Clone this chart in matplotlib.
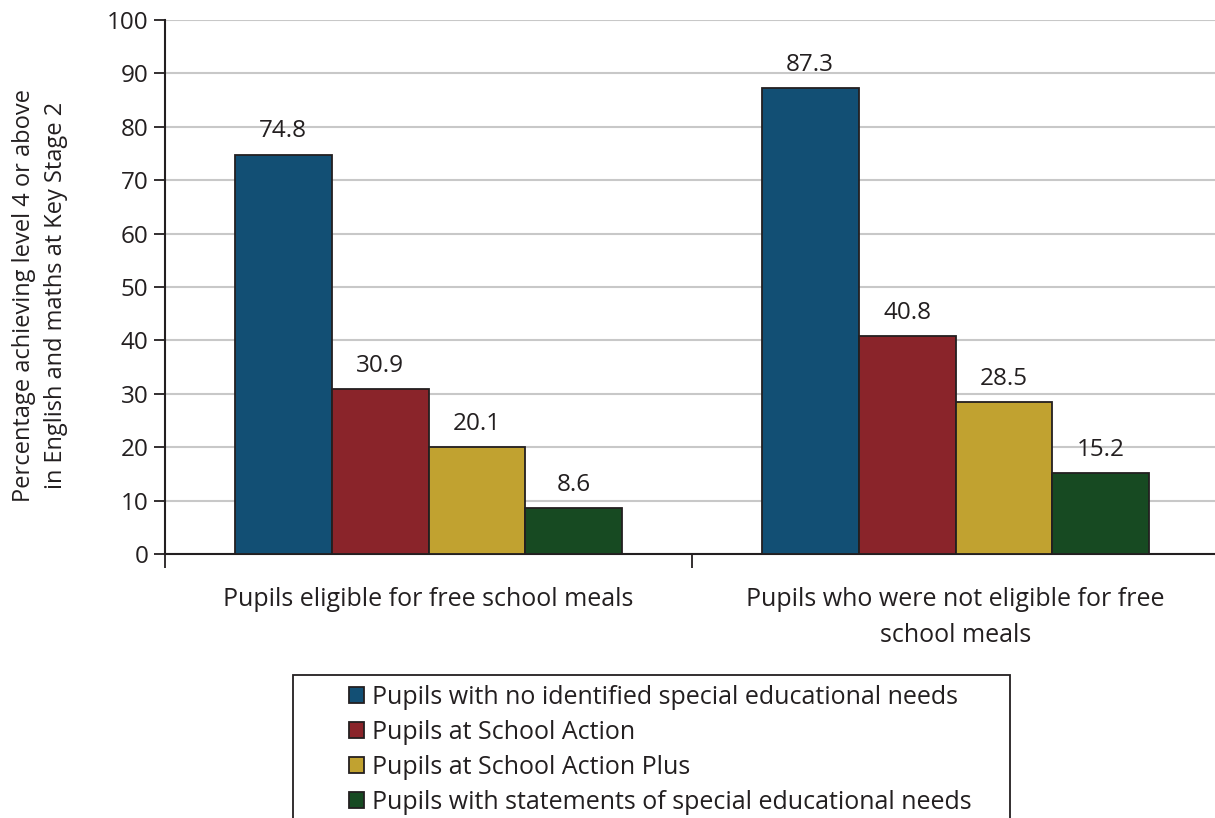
import numpy as np
import matplotlib
matplotlib.use('Agg')
import matplotlib.pyplot as plt
from matplotlib.patches import Rectangle

plt.rcParams['font.family'] = ['Open Sans', 'DejaVu Sans']

# data
categories = ['Pupils eligible for free school meals',
              'Pupils who were not eligible for free\nschool meals']
series_names = ['Pupils with no identified special educational needs',
                'Pupils at School Action',
                'Pupils at School Action Plus',
                'Pupils with statements of special educational needs']
values = [
    [74.8, 87.3],
    [30.9, 40.8],
    [20.1, 28.5],
    [8.6, 15.2],
]
colors = ['#124f74', '#8a242a', '#c1a230', '#174a22']
y_label = 'Percentage achieving level 4 or above\nin English and maths at Key Stage 2'

fs = 17.5
fig = plt.figure(figsize=(12.15, 8.18), dpi=100)
ax = fig.add_axes([165 / 1215, 1 - 554 / 818, (1219 - 165) / 1215, (554 - 20) / 818])

x = np.arange(len(categories))
width = 0.184
text_col = '#231f20'
for i, (name, vals, c) in enumerate(zip(series_names, values, colors)):
    pos = x + (i - 1.5) * width
    bars = ax.bar(pos, vals, width, color=c, edgecolor=text_col, linewidth=1.3,
                  label=name, zorder=3)
    for b, v in zip(bars, vals):
        ax.annotate('%.1f' % v, (b.get_x() + b.get_width() / 2, v),
                    xytext=(0, 8), textcoords='offset points',
                    ha='center', va='bottom', fontsize=fs, color=text_col)

ax.set_xlim(-0.5, 1.5)
ax.set_ylim(0, 100)
ax.set_yticks(range(0, 101, 10))
ax.yaxis.grid(True, color='#c8c8c8', linewidth=1.5, zorder=0)
ax.set_axisbelow(True)

# category boundary ticks below, labels centered
ax.set_xticks([-0.5, 0.5, 1.5])
ax.set_xticklabels([])
ax.set_xticks(x, minor=True)
ax.set_xticklabels(categories, minor=True, fontsize=18, color=text_col,
                   linespacing=1.55)
ax.tick_params(axis='x', which='minor', length=0, pad=24)
ax.tick_params(axis='x', which='major', length=10, width=1.3, color=text_col,
               direction='out')
ax.tick_params(axis='y', length=8, width=1.3, color=text_col, labelsize=fs,
               labelcolor=text_col, pad=4)

for s in ['top', 'right']:
    ax.spines[s].set_visible(False)
for s in ['left', 'bottom']:
    ax.spines[s].set_color(text_col)
    ax.spines[s].set_linewidth(1.5)

fig.text(40 / 1215, 1 - 295 / 818, y_label, rotation=90, ha='center',
         va='center', fontsize=17, color=text_col, linespacing=1.4)

# legend box, cut off at the bottom as in the source
fig.patches.append(Rectangle((293 / 1215, -0.05), (1010 - 293) / 1215,
                             1 - 675 / 818 + 0.05, transform=fig.transFigure,
                             facecolor='white', edgecolor=text_col,
                             linewidth=1.3, zorder=0))
fig.legend(loc='upper left', bbox_to_anchor=(349 / 1215, 1 - 685 / 818),
           frameon=False, fontsize=18, handlelength=0.6, handleheight=0.6,
           handletextpad=0.3, labelspacing=0.4, borderaxespad=0,
           borderpad=0, labelcolor=text_col)

fig.savefig('out.png', dpi=100)
